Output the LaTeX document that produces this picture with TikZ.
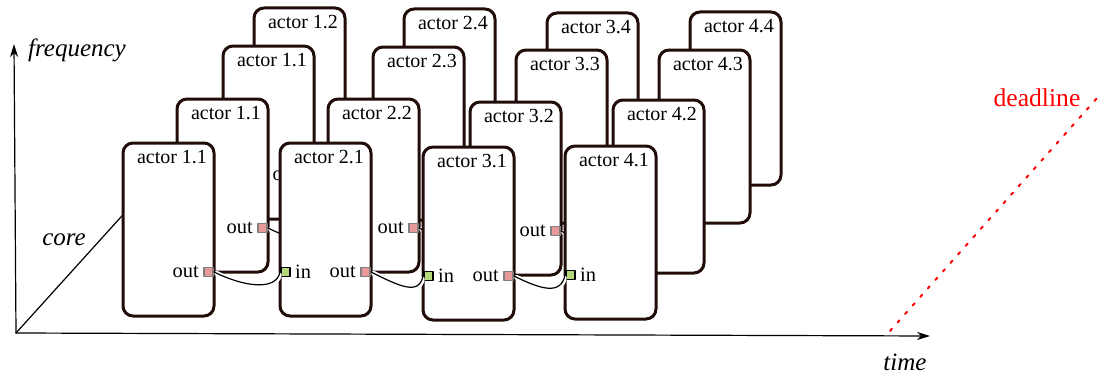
\documentclass[tikz,border=0pt]{standalone}
\usepackage{fontspec}
\setmainfont{Liberation Serif}
\usetikzlibrary{arrows.meta}

\definecolor{boxline}{RGB}{32,12,8}
\definecolor{outfill}{RGB}{232,153,154}
\definecolor{infill}{RGB}{181,217,122}
\definecolor{portgray}{RGB}{128,128,128}

\tikzset{
    actor/.style={draw=boxline, line width=1.5pt, fill=white,
        rounded corners=5pt, minimum width=45.5pt, minimum height=86.5pt,
        outer sep=0pt, inner sep=0pt},
    actorlabel/.style={anchor=north, inner sep=1pt,
        font=\fontsize{10}{12}\selectfont},
    outport/.style={draw=portgray, line width=0.8pt, fill=outfill,
        minimum size=4.6pt, inner sep=0pt},
    inport/.style={draw=black, line width=0.8pt, fill=infill,
        minimum size=4.6pt, inner sep=0pt},
    portlabel/.style={inner sep=2pt, font=\fontsize{10.2}{12}\selectfont},
    link/.style={line width=0.6pt,
        preaction={draw=white, line width=2.4pt,
            shorten <=1.5pt, shorten >=1.5pt}},
    axis/.style={line width=0.6pt,
        -{Stealth[length=6.5pt,width=4pt,inset=2pt]}},
    axislabel/.style={font=\fontsize{12.5}{14}\selectfont\itshape}
}

\begin{document}
\begin{tikzpicture}[line cap=round,line join=round,x=0.5pt,y=0.5pt]
\useasboundingbox (0,0) rectangle (1100,376);

% axes
\coordinate (O) at (16,43);
\coordinate (F) at (14,332);
\coordinate (T) at (930,40);
\coordinate (C) at (130,169);
\draw[axis] (O)--(F);
\draw[axis] (O)--(T);
\draw[line width=0.6pt] (O)--(C);
\node[axislabel] (freq) at (77,326) {frequency};
\node[axislabel] (core) at (64,136) {core};
\node[axislabel] (time) at (905,14) {time};

% deadline
\coordinate (D0) at (890,45);
\coordinate (D1) at (1098,279);
\draw[red, line width=1pt, dash pattern=on 1.4pt off 4.3pt] (D0)--(D1);
\node[red, font=\fontsize{12.8}{14}\selectfont] (dl) at (1037,278) {deadline};

% layer 4, the back row
\foreach \c/\x/\y/\t in {1/299.5/281.5/1.2, 2/449.5/280.5/2.4,
    3/592.5/276.5/3.4, 4/735.5/277.5/4.4}
{
    \node[actor] (a\c4) at (\x,\y) {};
    \node[actorlabel] (t\c4) at ([xshift=1.75pt,yshift=-2.5pt]a\c4.north) {actor \t};
}

% layer 3
\foreach \c/\x/\y/\t in {1/268.5/243.5/1.1, 2/418.5/242.5/2.3,
    3/561.5/239.5/3.3, 4/704.5/239.5/4.3}
{
    \node[actor] (a\c3) at (\x,\y) {};
    \node[actorlabel] (t\c3) at ([xshift=1.75pt,yshift=-2.5pt]a\c3.north) {actor \t};
}
\node[outport, anchor=east] (o13) at ([yshift=22pt]a13.south east) {};
\node[portlabel, left] (lo13) at (o13.west) {out};
\node[inport, anchor=west] (i23) at ([yshift=22pt]a23.south west) {};
\draw[link] (o13.east) .. controls +(28,-14) and +(-4,-20) .. (i23.west);

% layer 2
\foreach \c/\x/\y/\t in {1/222.5/190.5/1.1, 2/373.5/190.5/2.2,
    3/515.5/187.5/3.2, 4/658.5/189.5/4.2}
{
    \node[actor] (a\c2) at (\x,\y) {};
    \node[actorlabel] (t\c2) at ([xshift=1.75pt,yshift=-2.5pt]a\c2.north) {actor \t};
}
\foreach \c in {1,2,3}
{
    \node[outport, anchor=east] (o\c2) at ([yshift=22pt]a\c2.south east) {};
    \node[portlabel, left] (lo\c2) at (o\c2.west) {out};
}
\foreach \c in {2,3,4}
{
    \node[inport, anchor=west] (i\c2) at ([yshift=22pt]a\c2.south west) {};
    \node[portlabel, right] (li\c2) at (i\c2.east) {in};
}
\foreach \c/\d in {1/2, 2/3, 3/4}
    \draw[link] (o\c2.east) .. controls +(28,-14) and +(-4,-20) .. (i\d2.west);

% layer 1, the front row
\foreach \c/\x/\y/\t in {1/168.5/146.5/1.1, 2/325.5/146.5/2.1,
    3/468.5/142.5/3.1, 4/610.5/143.5/4.1}
{
    \node[actor] (a\c1) at (\x,\y) {};
    \node[actorlabel] (t\c1) at ([xshift=1.75pt,yshift=-2.5pt]a\c1.north) {actor \t};
}
\foreach \c in {1,2,3}
{
    \node[outport, anchor=east] (o\c1) at ([yshift=22pt]a\c1.south east) {};
    \node[portlabel, left] (lo\c1) at (o\c1.west) {out};
}
\foreach \c in {2,3,4}
{
    \node[inport, anchor=west] (i\c1) at ([yshift=22pt]a\c1.south west) {};
    \node[portlabel, right] (li\c1) at (i\c1.east) {in};
}
\foreach \c/\d in {1/2, 2/3, 3/4}
    \draw[link] (o\c1.east) .. controls +(28,-14) and +(-4,-20) .. (i\d1.west);
\end{tikzpicture}
\end{document}
